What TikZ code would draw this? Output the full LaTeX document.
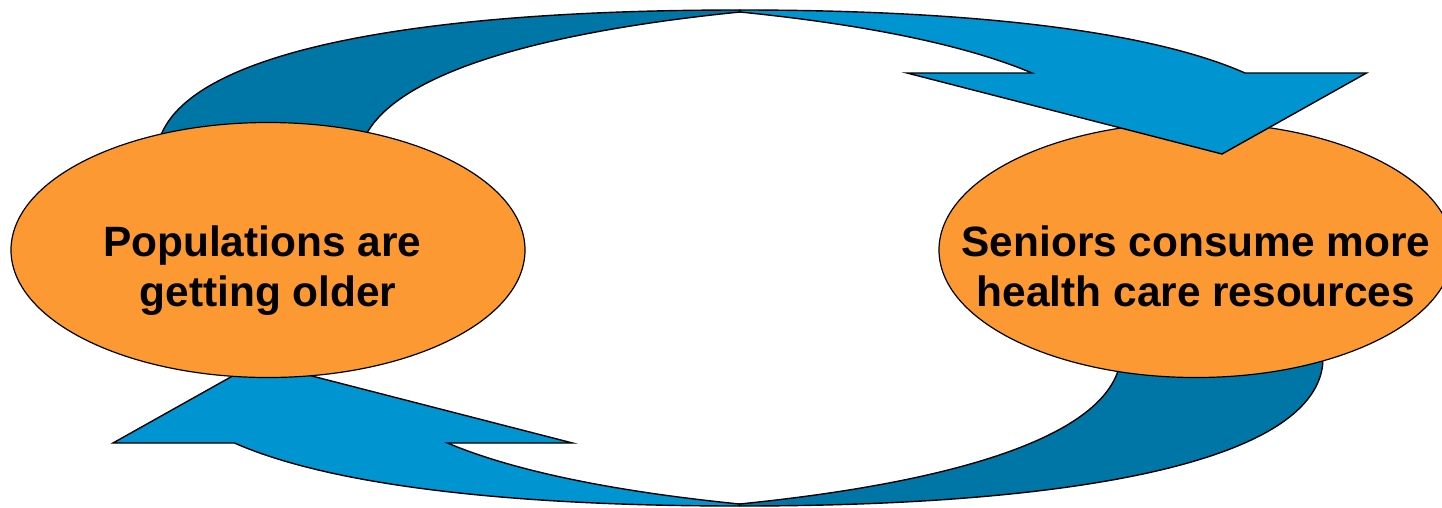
\documentclass[tikz,border=0pt]{standalone}
\usepackage{fontspec}
\setmainfont{Liberation Sans}
\usetikzlibrary{shapes.geometric}
\definecolor{darkblue}{RGB}{0,118,166}
\definecolor{lightblue}{RGB}{0,148,208}
\definecolor{orangefill}{RGB}{253,153,51}
\begin{document}
\begin{tikzpicture}[x=1pt,y=-1pt,
  backpart/.style={fill=darkblue,draw=black,line width=1.4pt,line join=round},
  frontpart/.style={fill=lightblue,draw=black,line width=1.4pt,line join=miter},
  bubble/.style={ellipse,draw=black,fill=orangefill,line width=1.2pt,
    minimum width=514pt,minimum height=255pt,inner sep=0pt,outer sep=0pt},
  bubbletext/.style={align=center,inner sep=0pt,
    font=\fontsize{42.4}{50}\selectfont\bfseries}]
\useasboundingbox (0,0) rectangle (1442,507);

% lower curved arrow (point reflection of the upper one)
\begin{scope}[rotate around={180:(739.75,258)}]
  \path[backpart] (156,172) -- (157,150) .. controls (170,55) and (400,10) .. (740,10)
    -- (740,12) .. controls (560,30) and (380,70) .. (360,150) -- (359,172) -- cycle;
  \path[frontpart] (740,10) .. controls (969.5,10) and (1148.9,30.5) .. (1245,73)
    -- (1366.5,73) -- (1222,154) -- (907,73) -- (1032,73)
    .. controls (958.4,41.9) and (849.2,22.9) .. (740,12) -- cycle;
\end{scope}

% upper curved arrow, back part
\path[backpart] (156,172) -- (157,150) .. controls (170,55) and (400,10) .. (740,10)
  -- (740,12) .. controls (560,30) and (380,70) .. (360,150) -- (359,172) -- cycle;

% ellipses
\node[bubble] (older) at (268,250) {};
\node[bubble] (seniors) at (1196,250) {};

% upper curved arrow, front part
\path[frontpart] (740,10) .. controls (969.5,10) and (1148.9,30.5) .. (1245,73)
  -- (1366.5,73) -- (1222,154) -- (907,73) -- (1032,73)
  .. controls (958.4,41.9) and (849.2,22.9) .. (740,12) -- cycle;

% texts
\node[bubbletext] (olderT) at (268,270.7)
  {\rule{0pt}{31pt}Populations are\hbox{\ }\\getting older\rule[-9pt]{0pt}{9pt}};
\node[bubbletext] (seniorsT) at (1196,270.7)
  {\rule{0pt}{31pt}Seniors consume more\\health care resources\rule[-9pt]{0pt}{9pt}};
\end{tikzpicture}
\end{document}
